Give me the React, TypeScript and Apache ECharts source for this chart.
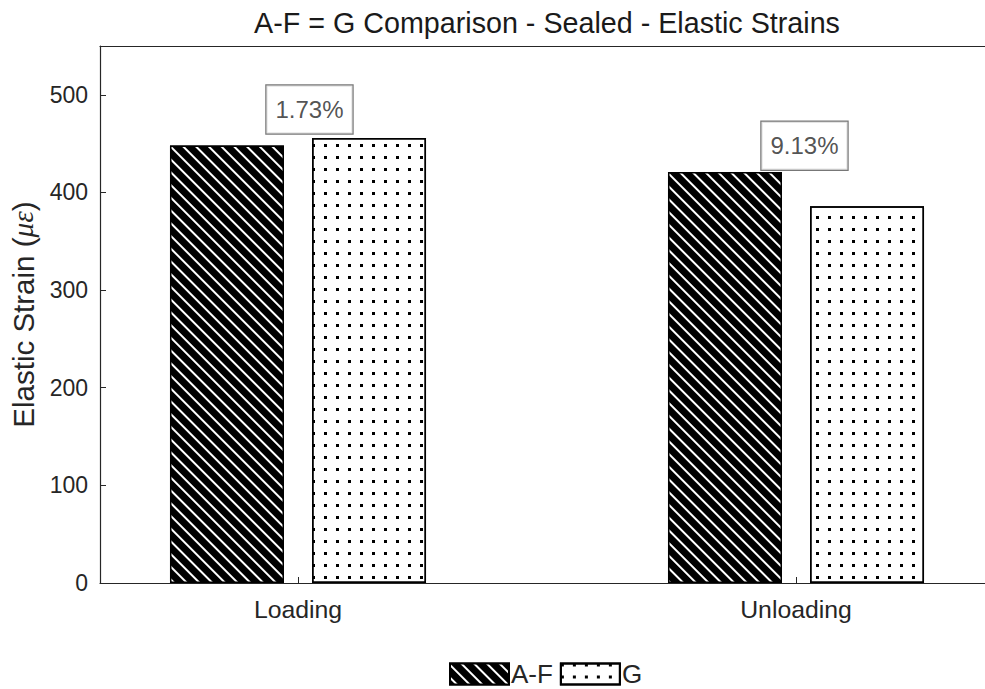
import React, { useEffect, useRef } from "react";
import * as echarts from "echarts";

const categories = ["Loading", "Unloading"];
const categoryPositions = [1, 2];
const seriesNames = ["A-F", "G"];
const afValues = [448, 421];
const gValues = [455.75, 385.8];
const noteTexts = ["1.73%", "9.13%"];
const notePositions: [number, number][] = [
  [1.023, 485],
  [2.017, 447.8],
];
const yTicks = [0, 100, 200, 300, 400, 500];
const xRange = [0.6024, 2.3795];

const FONT = "'Liberation Sans', Arial, Helvetica, sans-serif";
const TXT = "#262626";

export default function App() {
  const ref = useRef<HTMLDivElement>(null);
  useEffect(() => {
    if (!ref.current) return;
    const chart = echarts.init(ref.current, undefined, { renderer: "svg" });
    const option: any = {
      animation: false,
      backgroundColor: "#fff",
      textStyle: { fontFamily: FONT },
      title: {
        text: "A-F = G Comparison - Sealed - Elastic Strains",
        left: 542,
        textAlign: "center",
        top: 3,
        textStyle: { fontFamily: FONT, fontSize: 28.7, fontWeight: "normal", color: "#1a1a1a" },
      },
      grid: { left: 100, right: 0, top: 46, bottom: 106, containLabel: false },
      legend: {
        data: seriesNames,
        left: 449,
        top: 661,
        itemWidth: 59,
        itemHeight: 21,
        itemGap: 7,
        padding: 0,
        icon: "rect",
        textStyle: { fontFamily: FONT, fontSize: 26, color: TXT, padding: [0, 0, 0, -3] },
      },
      xAxis: [
        {
          type: "value",
          min: xRange[0],
          max: xRange[1],
          axisLine: { show: true, onZero: false, lineStyle: { color: TXT, width: 1.2 } },
          axisTick: { show: true, inside: true, length: 6, customValues: categoryPositions, lineStyle: { color: TXT } },
          axisLabel: {
            customValues: categoryPositions,
            formatter: (v: number) => categories[Math.round(v) - 1] ?? "",
            fontFamily: FONT,
            fontSize: 24.8,
            color: TXT,
            margin: 14,
          },
          splitLine: { show: false },
        },
        {
          type: "value",
          position: "top",
          min: xRange[0],
          max: xRange[1],
          axisLine: { show: true, onZero: false, lineStyle: { color: TXT, width: 1.2 } },
          axisTick: { show: false },
          axisLabel: { show: false },
          splitLine: { show: false },
        },
      ],
      yAxis: {
        type: "value",
        min: 0,
        max: 550,
        interval: 100,
        name: "Elastic Strain ({i|με})",
        nameLocation: "middle",
        nameRotate: 90,
        nameGap: 62,
        nameTextStyle: {
          fontFamily: FONT,
          fontSize: 29.5,
          color: TXT,
          rich: {
            i: { fontFamily: "'Liberation Serif', 'DejaVu Serif', serif", fontStyle: "italic", fontSize: 29.5, color: TXT },
          },
        },
        axisLine: { show: true, lineStyle: { color: TXT, width: 1.2 } },
        axisTick: { show: true, inside: true, length: 6, customValues: yTicks, lineStyle: { color: TXT } },
        axisLabel: {
          customValues: yTicks,
          fontFamily: FONT,
          fontSize: 23,
          color: TXT,
          margin: 12,
        },
        splitLine: { show: false },
      },
      series: [
        {
          name: seriesNames[0],
          type: "bar",
          barWidth: 114,
          barGap: "24.6%",
          data: categoryPositions.map((x, i) => [x, afValues[i]]),
          itemStyle: {
            color: "#000",
            borderColor: "#000",
            borderWidth: 1.5,
            decal: {
              symbol: "rect",
              symbolSize: 1,
              color: "#fff",
              dashArrayX: [1, 0],
              dashArrayY: [1.3, 6.5],
              rotation: Math.PI / 4,
            },
          },
        },
        {
          name: seriesNames[1],
          type: "bar",
          barWidth: 114,
          barGap: "24.6%",
          data: categoryPositions.map((x, i) => [x, gValues[i]]),
          itemStyle: {
            color: "#fff",
            borderColor: "#000",
            borderWidth: 1.5,
            decal: {
              symbol: "rect",
              symbolSize: 1,
              color: "#000",
              dashArrayX: [3, 8.4],
              dashArrayY: [3, 8.4],
              rotation: 0,
            },
          },
        },
        {
          name: "notes",
          type: "scatter",
          symbolSize: 0,
          silent: true,
          data: notePositions.map((p, i) => ({ value: p, name: noteTexts[i] })),
          label: {
            show: true,
            position: "inside",
            formatter: (p: any) => p.name,
            fontFamily: FONT,
            fontSize: 24,
            color: TXT,
            backgroundColor: "#fff",
            borderColor: "#555",
            borderWidth: 1.2,
            padding: [11, 9, 11, 9],
            lineHeight: 26,
          },
        },
      ],
    };
    chart.setOption(option);
    return () => chart.dispose();
  }, []);
  return (
    <div
      ref={ref}
      style={{ position: "fixed", left: 0, top: 0, width: 985, height: 689 }}
    />
  );
}
